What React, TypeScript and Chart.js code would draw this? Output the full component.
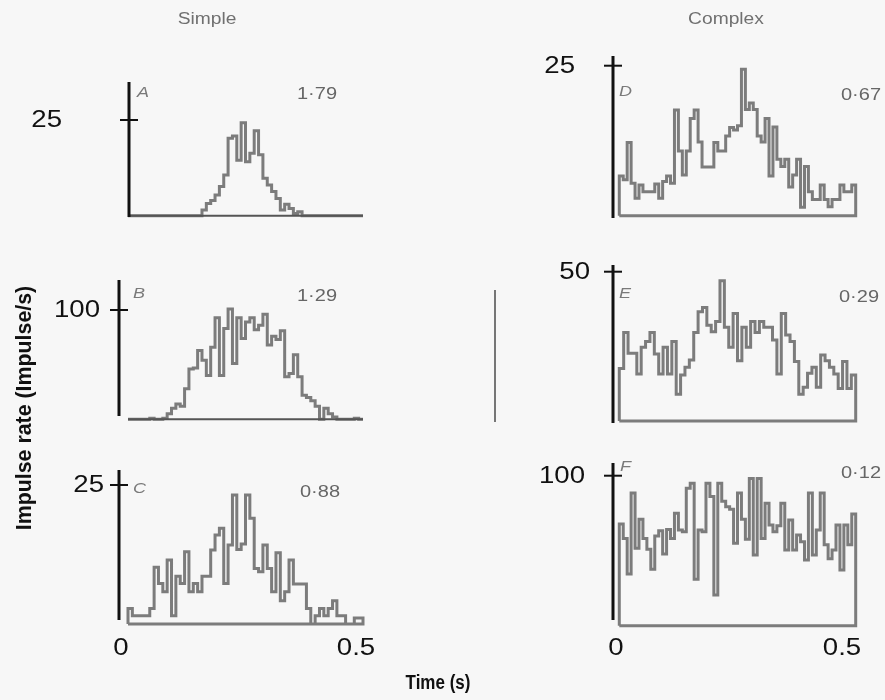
import React, { useEffect, useRef } from 'react';
import { Chart, registerables } from 'chart.js';

Chart.register(...registerables);

// ---------------- data ----------------
const columnTitles = ['Simple', 'Complex'];
const panelLetters = ['A', 'B', 'C', 'D', 'E', 'F'];
const panelIndices = ['1·79', '1·29', '0·88', '0·67', '0·29', '0·12'];
const yTickValues = [25, 100, 25, 25, 50, 100];
const yTickLabels = ['25', '100', '25', '25', '50', '100'];
const xTickValues = [0, 0.5];
const xTickLabels = ['0', '0.5'];
const xAxisTitle = 'Time (s)';
const yAxisTitle = 'Impulse rate (Impulse/s)';

// impulse rate per bin (impulse/s)
const histA = [
  0, 0, 0, 0, 0, 0, 0, 0, 0, 0, 0, 0, 0, 0, 0, 0, 0,
  1.5, 3.2, 4, 5.4, 7.6, 10.6, 20.2, 20.8, 14.5, 24.3, 14.1, 16.3, 22.2, 15.9, 9.8, 8, 6.3, 4.5, 1.5, 3, 1.9, 0.6, 1,
  0, 0, 0, 0, 0, 0, 0, 0, 0, 0, 0, 0, 0, 0,
];
const histB = [
  0, 0, 0, 0, 0, 1, 0, 0, 1, 5, 10, 14, 12, 28, 46, 47, 63, 54, 40, 66, 93, 40, 83, 101, 51, 93, 74, 89, 93, 82,
  86, 96, 68, 76, 73, 81, 39, 42, 59, 39, 22, 20, 17, 12, 0, 10, 5, 2, 0, 0, 0, 0, 1, 0,
];
const histC = [
  2.8, 1.5, 1.5, 1.5, 1.5, 2.8, 10.2, 7.3, 5.8, 11.5, 1.5, 8.6, 7.3, 13, 5.8, 7.3, 5.8, 8.6, 8.6, 13.3,
  16, 17.2, 7.3, 14.2, 23.2, 13.4, 14.4, 23.2, 19, 10, 9.4, 14.2, 10, 5.8, 12.8, 4.2, 5.8, 11.5, 7.2, 7.2,
  7.2, 2.8, 0, 1.5, 2.8, 1.5, 2.8, 4.2, 1.5, 1.5, 0, 0, 1.1, 1.1,
];
const histD = [
  6.6, 6, 12.2, 5.4, 2.9, 5.1, 4, 4, 4, 5.3, 2.9, 5.7, 6.6, 5.4, 17.6, 10.8, 6.8, 10.8, 16.2, 17.6,
  12.3, 8.1, 8.1, 8.1, 12.2, 10.8, 10.8, 13.3, 14.7, 14.3, 15, 24.4, 17.7, 18.8, 17.7, 13.3, 12.3, 16.2, 6.6, 14.8,
  9.4, 8.2, 9.4, 4.8, 6.8, 9.4, 1.4, 8.2, 4, 2.7, 2.7, 5.1, 2.7, 1.5, 2.7, 2.7, 5.1, 4, 4, 5.1,
];
const histE = [
  17.6, 29.6, 22.7, 22.7, 15.7, 24.7, 26.6, 29.6, 22.4, 15.7, 24.7, 15.7, 26.6, 9, 15.4, 18, 20.4, 29.6, 36.6, 38,
  32.1, 29.9, 33.3, 47, 31.4, 24.7, 36, 20.2, 31.4, 24.7, 33.3, 29.6, 33.3, 31.4, 31.4, 27.1, 15.7, 36, 28.8, 26.6,
  19.9, 9, 11.3, 16, 18, 11.3, 22.1, 20.2, 18, 15.7, 10.9, 19.9, 10.9, 15.4,
];
const histF = [
  67.8, 58.2, 34.4, 88.4, 51.6, 70.9, 58.2, 50.9, 37.6, 59.8, 63.3, 47.8, 64.2, 58.2, 74.9, 63.8, 62.7, 91.6, 94.9, 30.9,
  63.8, 62.7, 94.9, 86.2, 20.4, 94.9, 82.9, 79.3, 77.6, 54.9, 88.4, 70.9, 57.6, 98.2, 47.1, 98.2, 58.2, 81.6, 67.1, 62.7,
  66.6, 81.6, 50.4, 70.4, 50.4, 60.4, 56, 43.8, 88.4, 47.1, 63.8, 88.4, 54, 44.7, 50.4, 67.1, 37.1, 67.1, 54, 74.4,
];
const histograms = [histA, histB, histC, histD, histE, histF];

// ---------------- layout (page pixels) ----------------
const W = 885;
const H = 700;
const BG = '#f7f7f7';
const FONT = '"Liberation Sans", Arial, Helvetica, sans-serif';

// x mapping anchors: pixel of t=0 and t=0.5; box = extent of histogram in seconds
const COLS: Record<string, { p0: number; p1: number; boxStart: number; boxEnd: number; titleX: number }> = {
  L: { p0: 121, p1: 356, boxStart: 0.0149, boxEnd: 0.5149, titleX: 207 },
  R: { p0: 616, p1: 842, boxStart: 0.0073, boxEnd: 0.5303, titleX: 726 },
};

const PANELS = [
  { col: 'L', y0: 215.7, yT: 120, axisX: 129, axisTop: 82, axisBottom: 217, closed: false, labelRight: 62, letter: [137, 93], idx: [297, 95] },
  { col: 'L', y0: 419.3, yT: 310, axisX: 119, axisTop: 280, axisBottom: 416, closed: false, labelRight: 100, letter: [133, 294], idx: [297, 297] },
  { col: 'L', y0: 624, yT: 485, axisX: 119, axisTop: 470, axisBottom: 620, closed: true, labelRight: 104, letter: [133, 489], idx: [300, 493] },
  { col: 'R', y0: 215.7, yT: 65.7, axisX: 613, axisTop: 56, axisBottom: 218, closed: true, labelRight: 575, letter: [619, 92], idx: [841, 96] },
  { col: 'R', y0: 421, yT: 271.7, axisX: 613, axisTop: 265, axisBottom: 423, closed: true, labelRight: 590, letter: [619, 294], idx: [839, 298] },
  { col: 'R', y0: 625.7, yT: 475.7, axisX: 613, axisTop: 463, axisBottom: 620, closed: true, labelRight: 585, letter: [620, 467], idx: [841, 474] },
];

function xRange(p0: number, p1: number) {
  const k = (p1 - p0) / 0.5;
  return { min: -p0 / k, max: (W - p0) / k };
}
function yRange(y0: number, yT: number, tick: number) {
  const k = (y0 - yT) / tick;
  return { min: (y0 - H) / k, max: y0 / k };
}

function buildPath(values: number[], start: number, end: number, closed: boolean) {
  const n = values.length;
  const w = (end - start) / n;
  const pts: { x: number; y: number }[] = [];
  if (closed) pts.push({ x: start, y: 0 });
  values.forEach((v, i) => pts.push({ x: start + i * w, y: v }));
  pts.push({ x: end, y: values[n - 1] });
  if (closed) {
    pts.push({ x: end, y: 0 });
    pts.push({ x: start, y: 0 });
  }
  return pts;
}

function drawText(
  ctx: CanvasRenderingContext2D,
  text: string,
  x: number,
  y: number,
  font: string,
  color: string,
  align: CanvasTextAlign,
  sx = 1,
  rotate = 0,
  sy = 1,
) {
  ctx.save();
  ctx.translate(x, y);
  if (rotate) ctx.rotate(rotate);
  ctx.scale(sx, sy);
  ctx.font = font;
  ctx.fillStyle = color;
  ctx.textAlign = align;
  ctx.textBaseline = 'middle';
  ctx.fillText(text, 0, 0);
  ctx.restore();
}

function line(ctx: CanvasRenderingContext2D, x1: number, y1: number, x2: number, y2: number, color: string, width: number) {
  ctx.save();
  ctx.strokeStyle = color;
  ctx.lineWidth = width;
  ctx.lineCap = 'butt';
  ctx.beginPath();
  ctx.moveTo(x1, y1);
  ctx.lineTo(x2, y2);
  ctx.stroke();
  ctx.restore();
}

const decorPlugin = {
  id: 'decor',
  beforeDraw(chart: any) {
    const ctx = chart.ctx;
    ctx.save();
    ctx.fillStyle = BG;
    ctx.fillRect(0, 0, chart.width, chart.height);
    ctx.restore();
  },
  afterDatasetsDraw(chart: any) {
    const ctx: CanvasRenderingContext2D = chart.ctx;
    const sc = chart.scales;
    PANELS.forEach((p, i) => {
      const col = COLS[p.col];
      const xs = sc['x' + p.col];
      const ys = sc['y' + panelLetters[i]];
      const zeroY = ys.getPixelForValue(0);
      if (!p.closed) {
        line(ctx, xs.getPixelForValue(col.boxStart), zeroY, xs.getPixelForValue(col.boxEnd), zeroY, '#555', 2);
      }
      line(ctx, p.axisX, p.axisTop, p.axisX, p.axisBottom, '#111', 3);
      const ty = ys.getPixelForValue(yTickValues[i]);
      line(ctx, p.axisX - 9, ty, p.axisX + 9, ty, '#111', 2);
      drawText(ctx, yTickLabels[i], p.labelRight, ty + 1, `23px ${FONT}`, '#111', 'right', 1.2);
      drawText(ctx, panelLetters[i], p.letter[0], p.letter[1], `italic 15px ${FONT}`, '#7a7a7a', 'left', 1.2);
      drawText(ctx, panelIndices[i], p.idx[0], p.idx[1], `16px ${FONT}`, '#666', 'left', 1.25);
    });
    // bottom tick labels
    ['L', 'R'].forEach((c) => {
      const xs = sc['x' + c];
      xTickValues.forEach((v, j) => {
        drawText(ctx, xTickLabels[j], xs.getPixelForValue(v), 649, `23px ${FONT}`, '#111', 'center', 1.2);
      });
    });
    // column titles
    drawText(ctx, columnTitles[0], COLS.L.titleX, 20, `16px ${FONT}`, '#707070', 'center', 1.2);
    drawText(ctx, columnTitles[1], COLS.R.titleX, 20, `16px ${FONT}`, '#707070', 'center', 1.2);
    // divider
    line(ctx, 495, 290, 495, 422, '#555', 1.6);
    // axis titles
    drawText(ctx, xAxisTitle, 438, 683, `bold 20px ${FONT}`, '#111', 'center', 0.85);
    drawText(ctx, yAxisTitle, 25, 408, `bold 22px ${FONT}`, '#111', 'center', 0.97, -Math.PI / 2);
  },
};

export default function App() {
  const ref = useRef<HTMLCanvasElement | null>(null);

  useEffect(() => {
    document.body.style.margin = '0';
    const canvas = ref.current;
    if (!canvas) return;

    const scales: any = {};
    (['L', 'R'] as const).forEach((c) => {
      const r = xRange(COLS[c].p0, COLS[c].p1);
      scales['x' + c] = { type: 'linear', axis: 'x', position: 'bottom', display: false, min: r.min, max: r.max };
    });
    PANELS.forEach((p, i) => {
      const r = yRange(p.y0, p.yT, yTickValues[i]);
      scales['y' + panelLetters[i]] = { type: 'linear', axis: 'y', position: 'left', display: false, min: r.min, max: r.max };
    });

    const datasets: any[] = [];
    PANELS.forEach((p, i) => {
      const col = COLS[p.col];
      const pts = buildPath(histograms[i], col.boxStart, col.boxEnd, p.closed);
      const common = {
        data: pts,
        xAxisID: 'x' + p.col,
        yAxisID: 'y' + panelLetters[i],
        stepped: 'before',
        pointRadius: 0,
        fill: false,
        tension: 0,
        borderJoinStyle: 'miter',
        borderCapStyle: 'butt',
      };
      datasets.push({ ...common, label: panelLetters[i], borderColor: '#7c7c7c', borderWidth: 3 });
      datasets.push({ ...common, label: panelLetters[i] + '-inner', borderColor: '#f2f2f2', borderWidth: 1.1 });
    });

    const chart = new Chart(canvas, {
      type: 'line',
      data: { datasets },
      options: {
        animation: false,
        responsive: false,
        maintainAspectRatio: false,
        events: [],
        layout: { padding: 0 },
        plugins: { legend: { display: false }, tooltip: { enabled: false }, title: { display: false } },
        scales,
      },
      plugins: [decorPlugin],
    } as any);

    return () => chart.destroy();
  }, []);

  return (
    <div style={{ position: 'fixed', left: 0, top: 0, width: W, height: H, background: BG }}>
      <canvas ref={ref} width={W} height={H} style={{ display: 'block', width: W, height: H }} />
    </div>
  );
}
